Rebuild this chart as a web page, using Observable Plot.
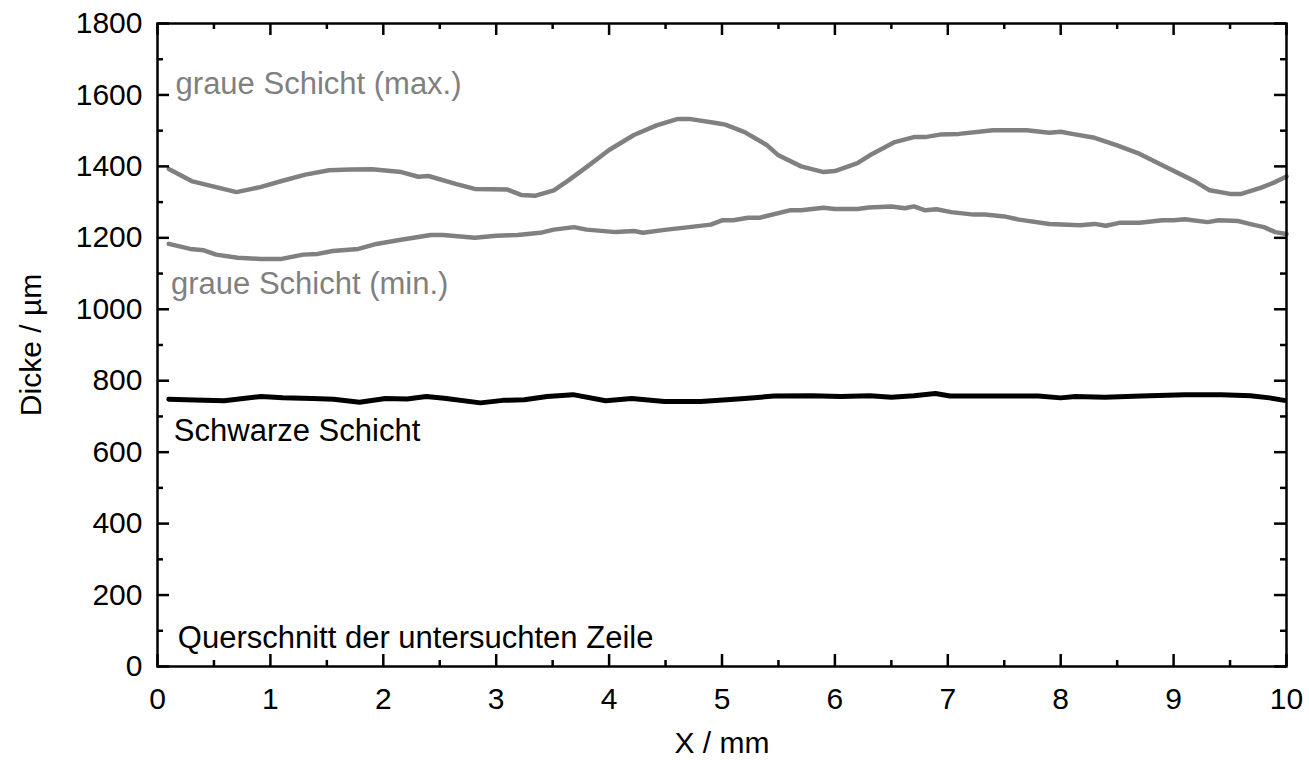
<!DOCTYPE html>
<html><head><meta charset="utf-8">
<script src="https://cdn.jsdelivr.net/npm/d3@7"></script>
<script src="https://cdn.jsdelivr.net/npm/@observablehq/plot@0.6"></script>
<style>body{margin:0;background:#fff;}</style>
</head><body><div id="chart"></div>
<script>
// graue Schicht (max.)
const xMax = [0.10,0.31,0.70,0.91,1.10,1.31,1.52,1.71,1.90,2.16,2.31,2.40,2.64,2.81,3.10,3.22,3.35,3.51,3.64,3.80,4.00,4.22,4.42,4.61,4.71,4.96,5.03,5.20,5.40,5.50,5.70,5.90,6.00,6.20,6.33,6.53,6.70,6.80,6.93,7.10,7.40,7.70,7.90,8.00,8.10,8.30,8.50,8.70,8.90,9.10,9.20,9.32,9.50,9.60,9.77,9.90,10.00];
const yMax = [1393,1358,1328,1342,1359,1377,1389,1391,1392,1384,1371,1373,1351,1337,1335,1320,1318,1333,1361,1398,1446,1488,1515,1533,1533,1521,1517,1496,1459,1431,1400,1384,1387,1409,1435,1468,1482,1482,1489,1491,1501,1501,1494,1497,1491,1480,1459,1435,1403,1372,1356,1333,1323,1323,1340,1356,1372];
// graue Schicht (min.)
const xMin = [0.10,0.29,0.41,0.52,0.71,0.91,1.10,1.29,1.42,1.55,1.78,1.94,2.13,2.42,2.53,2.81,3.00,3.19,3.39,3.51,3.69,3.80,4.06,4.22,4.30,4.51,4.71,4.90,5.00,5.10,5.23,5.33,5.60,5.70,5.90,6.00,6.20,6.30,6.50,6.62,6.70,6.80,6.90,7.03,7.23,7.33,7.50,7.63,7.90,8.17,8.30,8.40,8.52,8.70,8.90,9.00,9.10,9.30,9.40,9.57,9.70,9.80,9.90,10.00];
const yMin = [1183,1169,1165,1153,1144,1141,1141,1153,1155,1163,1169,1183,1193,1208,1208,1200,1206,1208,1214,1223,1230,1223,1216,1219,1214,1223,1230,1237,1249,1249,1256,1256,1277,1277,1284,1281,1281,1285,1288,1283,1288,1277,1280,1272,1265,1265,1260,1251,1239,1235,1239,1234,1242,1242,1249,1249,1252,1244,1249,1247,1237,1230,1216,1211];
// Schwarze Schicht
const xBlack = [0.10,0.33,0.59,0.92,1.11,1.37,1.56,1.79,2.02,2.21,2.38,2.54,2.86,3.06,3.25,3.45,3.68,3.97,4.20,4.49,4.81,5.01,5.20,5.46,5.79,6.05,6.31,6.50,6.70,6.89,7.02,7.41,7.80,8.00,8.13,8.39,8.71,9.10,9.42,9.68,9.85,9.98];
const yBlack = [748,746,744,756,752,750,748,740,750,749,756,751,738,745,747,756,761,744,750,742,742,746,750,757,758,756,758,754,758,764,757,757,757,752,756,754,757,761,761,758,752,745];

const yTicks = [0,200,400,600,800,1000,1200,1400,1600,1800];
const yMinor = [100,300,500,700,900,1100,1300,1500,1700];
const xTicks = [0,1,2,3,4,5,6,7,8,9,10];
const xMinor = [0.5,1.5,2.5,3.5,4.5,5.5,6.5,7.5,8.5,9.5];

const annoText = ["graue Schicht (max.)","graue Schicht (min.)","Schwarze Schicht","Querschnitt der untersuchten Zeile"];
const annoX = [0.16,0.12,0.145,0.18];
const annoY = [1630,1070,658,79];
const annoColor = ["#808080","#808080","#000000","#000000"];

const xTitle = "X / mm";
const yTitle = "Dicke / µm";

const toRows = (xs, ys, s) => xs.map((x, i) => ({x, y: ys[i], s}));
const grayRows = [...toRows(xMax, yMax, "max"), ...toRows(xMin, yMin, "min")];
const blackRows = toRows(xBlack, yBlack, "black");
const annos = annoText.map((t, i) => ({t, x: annoX[i], y: annoY[i], c: annoColor[i]}));

const W = 1309, H = 760, ML = 157, MR = 23, MT = 23, MB = 94;
const PW = W - ML - MR, PH = H - MT - MB;
const font = "Arial, 'Liberation Sans', sans-serif";
const tickStyle = {stroke: "#000", strokeWidth: 2.5};
// inward tick marks of a given length (px), drawn through the scales as inset rules
const yTickMarks = (ticks, len) => [
  Plot.ruleY(ticks, {y: d => d, insetRight: PW - len, ...tickStyle}),
  Plot.ruleY(ticks, {y: d => d, insetLeft: PW - len, ...tickStyle})
];
const xTickMarks = (ticks, len) => [
  Plot.ruleX(ticks, {x: d => d, insetTop: PH - len, ...tickStyle}),
  Plot.ruleX(ticks, {x: d => d, insetBottom: PH - len, ...tickStyle})
];

const chart = Plot.plot({
  width: W, height: H,
  marginLeft: ML, marginRight: MR, marginTop: MT, marginBottom: MB,
  style: {fontFamily: font, background: "#fff", color: "#000"},
  x: {domain: [0, 10]},
  y: {domain: [0, 1800]},
  marks: [
    Plot.line(grayRows, {x: "x", y: "y", z: "s", stroke: "#808080", strokeWidth: 4.5, strokeLinejoin: "round"}),
    Plot.line(blackRows, {x: "x", y: "y", stroke: "#000000", strokeWidth: 5, strokeLinejoin: "round"}),
    Plot.text(annos, {x: "x", y: "y", text: "t", fill: "c", textAnchor: "start", fontSize: 31, fontFamily: font}),
    Plot.axisX(xTicks, {anchor: "bottom", tickSize: 0, tickPadding: 21, fontSize: 30, fill: "#000", label: null, tickFormat: d => String(d)}),
    Plot.axisY(yTicks, {anchor: "left", tickSize: 0, tickPadding: 15, fontSize: 30, fill: "#000", label: null, tickFormat: d => String(d)}),
    ...yTickMarks(yTicks, 12),
    ...yTickMarks(yMinor, 6),
    ...xTickMarks(xTicks, 12),
    ...xTickMarks(xMinor, 6),
    Plot.frame({stroke: "#000", strokeWidth: 2.5}),
    Plot.text([xTitle], {frameAnchor: "bottom", dy: 77, lineAnchor: "middle", textAnchor: "middle", fontSize: 30, fill: "#000", fontFamily: font}),
    Plot.text([yTitle], {frameAnchor: "left", dx: -126, rotate: -90, lineAnchor: "middle", textAnchor: "middle", fontSize: 30, fill: "#000", fontFamily: font})
  ]
});
document.getElementById("chart").appendChild(chart);
</script>
</body></html>
